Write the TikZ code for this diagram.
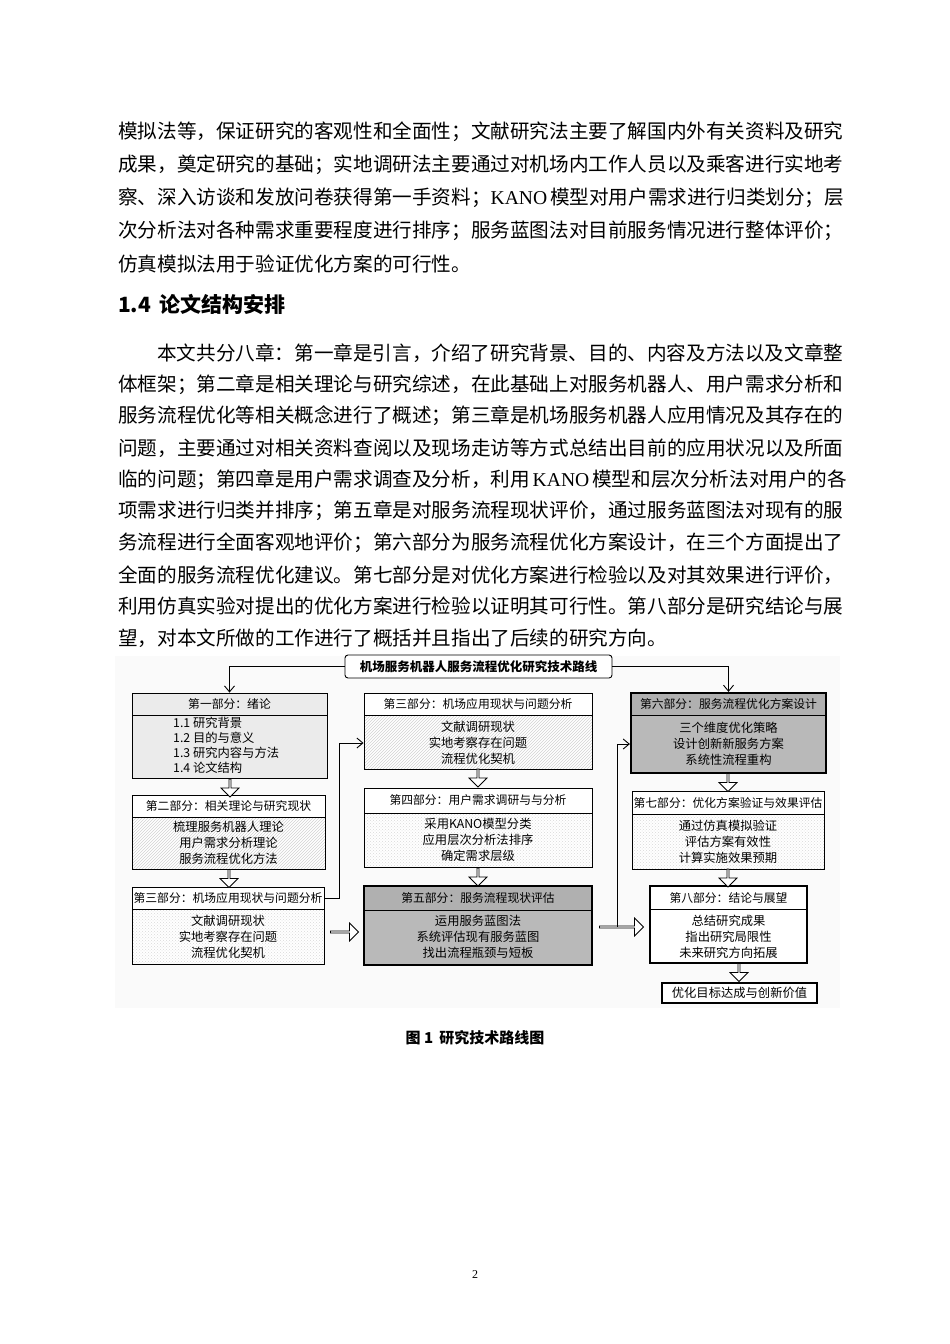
\documentclass[tikz,border=0pt]{standalone}
\usepackage{fontspec}
\setmainfont{Liberation Serif}
\newfontfamily\cjk{Noto Sans CJK SC}
\usetikzlibrary{arrows.meta,patterns,shapes.arrows}
\XeTeXlinebreaklocale "zh"
\XeTeXlinebreakskip=0pt plus 3pt minus 1pt
\newcommand\jl[1]{\hbox to 715pt{#1}}
\begin{document}
\begin{tikzpicture}[x=1pt,y=-1pt,
  txt/.style={anchor=west,inner sep=0pt,font=\cjk\fontsize{19.6}{22}\selectfont},
  hd/.style={font=\cjk\fontsize{11.8}{14}\selectfont,inner sep=0pt},
  bd/.style={font=\cjk\fontsize{12.3}{16}\selectfont,align=center,inner sep=0pt},
  outer/.style={draw,line width=0.9pt,inner sep=0pt},
  thickb/.style={draw,line width=2.2pt,inner sep=0pt},
  hline/.style={line width=0.9pt},
  darr/.style={draw,single arrow,line width=0.8pt,fill=white,minimum height=18pt,minimum width=18pt,single arrow head extend=3pt,shape border rotate=270,inner sep=0pt},
  rarr/.style={draw,single arrow,line width=0.8pt,fill=white,minimum width=18pt,single arrow head extend=3pt,inner sep=0pt},
  conn/.style={line width=0.9pt,-{Straight Barb[length=6pt,width=10pt]}}]
\useasboundingbox (0,0) rectangle (950,1344);
\fill[white] (0,0) rectangle (950,1344);
% top paragraph
\node[txt] (l1) at (118,132) {\jl{模拟法等，保证研究的客观性和全面性；文献研究法主要了解国内外有关资料及研究}};
\node[txt] (l2) at (118,165) {\jl{成果，奠定研究的基础；实地调研法主要通过对机场内工作人员以及乘客进行实地考}};
\node[txt] (l3) at (118,198) {\jl{察、深入访谈和发放问卷获得第一手资料；{\rmfamily KANO} 模型对用户需求进行归类划分；层}};
\node[txt] (l4) at (118,231) {\jl{次分析法对各种需求重要程度进行排序；服务蓝图法对目前服务情况进行整体评价；}};
\node[txt] (l5) at (118,264) {仿真模拟法用于验证优化方案的可行性。};
\node[anchor=west,inner sep=0pt,font=\cjk\bfseries\fontsize{21}{24}\selectfont] (h) at (118,304) {1.4\hspace{8pt}论文结构安排};
\node[txt] (p1) at (157,353) {\hbox to 676pt{本文共分八章：第一章是引言，介绍了研究背景、目的、内容及方法以及文章整}};
\node[txt] (p2) at (118,385) {\jl{体框架；第二章是相关理论与研究综述，在此基础上对服务机器人、用户需求分析和}};
\node[txt] (p3) at (118,416) {\jl{服务流程优化等相关概念进行了概述；第三章是机场服务机器人应用情况及其存在的}};
\node[txt] (p4) at (118,448) {\jl{问题，主要通过对相关资料查阅以及现场走访等方式总结出目前的应用状况以及所面}};
\node[txt] (p5) at (118,480) {\jl{临的问题；第四章是用户需求调查及分析，利用 {\rmfamily KANO} 模型和层次分析法对用户的各}};
\node[txt] (p6) at (118,511) {\jl{项需求进行归类并排序；第五章是对服务流程现状评价，通过服务蓝图法对现有的服}};
\node[txt] (p7) at (118,543) {\jl{务流程进行全面客观地评价；第六部分为服务流程优化方案设计，在三个方面提出了}};
\node[txt] (p8) at (118,575) {\jl{全面的服务流程优化建议。第七部分是对优化方案进行检验以及对其效果进行评价，}};
\node[txt] (p9) at (118,606) {\jl{利用仿真实验对提出的优化方案进行检验以证明其可行性。第八部分是研究结论与展}};
\node[txt] (p10) at (118,638) {望，对本文所做的工作进行了概括并且指出了后续的研究方向。};
% diagram background
\fill[gray!4] (115,656) rectangle (840,1008);
% title
\node[draw,rounded corners=3pt,line width=0.9pt,fill=white,minimum width=267pt,minimum height=23pt,font=\cjk\bfseries\fontsize{12.5}{14}\selectfont] (T) at (478.5,666.5) {机场服务机器人服务流程优化研究技术路线};
% Box 1
\fill[gray!16] (132,693) rectangle (327,778);
\draw[hline] (132,715) -- (327,715);
\node[outer,minimum width=195pt,minimum height=85pt] (B1) at (229.5,735.5) {};
\node[hd] (B1h) at (229.5,704) {第一部分：绪论};
\node[font=\cjk\fontsize{12.3}{15}\selectfont,align=left,anchor=north west,inner sep=0pt] (B1b) at (173,717) {1.1 研究背景\\1.2 目的与意义\\1.3 研究内容与方法\\1.4 论文结构};
% Box 2
\fill[white] (132,795) rectangle (325,869);
\fill[pattern=north east lines,pattern color=gray!35] (132,817) rectangle (325,869);
\draw[hline] (132,817) -- (325,817);
\node[outer,minimum width=193pt,minimum height=74pt] (B2) at (228.5,832) {};
\node[hd] (B2h) at (228.5,806) {第二部分：相关理论与研究现状};
\node[bd] (B2b) at (228.5,843) {梳理服务机器人理论\\用户需求分析理论\\服务流程优化方法};
% Box 3 left
\fill[white] (132,887) rectangle (324,964);
\fill[pattern=crosshatch dots,pattern color=gray!30] (132,909) rectangle (324,964);
\draw[hline] (132,909) -- (324,909);
\node[outer,minimum width=192pt,minimum height=77pt] (B3) at (228,925.5) {};
\node[hd] (B3h) at (228,898) {第三部分：机场应用现状与问题分析};
\node[bd] (B3b) at (228,937) {文献调研现状\\实地考察存在问题\\流程优化契机};
% Box 3 middle
\fill[white] (364,693) rectangle (592,769);
\fill[pattern=north east lines,pattern color=gray!35] (364,715) rectangle (592,769);
\draw[hline] (364,715) -- (592,715);
\node[outer,minimum width=228pt,minimum height=76pt] (M3) at (478,731) {};
\node[hd] (M3h) at (478,704) {第三部分：机场应用现状与问题分析};
\node[bd] (M3b) at (478,743) {文献调研现状\\实地考察存在问题\\流程优化契机};
% Box 4
\fill[white] (364,788) rectangle (592,867);
\fill[pattern=crosshatch dots,pattern color=gray!30] (364,813) rectangle (592,867);
\draw[hline] (364,813) -- (592,813);
\node[outer,minimum width=228pt,minimum height=79pt] (M4) at (478,827.5) {};
\node[hd] (M4h) at (478,800.5) {第四部分：用户需求调研与与分析};
\node[bd] (M4b) at (478,840) {采用KANO模型分类\\应用层次分析法排序\\确定需求层级};
% Box 5
\fill[gray!55] (364,886) rectangle (592,965);
\fill[gray!62] (364,886) rectangle (592,910);
\draw[hline] (364,910) -- (592,910);
\node[thickb,minimum width=228pt,minimum height=79pt] (M5) at (478,925.5) {};
\node[hd] (M5h) at (478,898) {第五部分：服务流程现状评估};
\node[bd] (M5b) at (478,937) {运用服务蓝图法\\系统评估现有服务蓝图\\找出流程瓶颈与短板};
% Box 6
\fill[gray!55] (631,693) rectangle (826,773);
\fill[gray!62] (631,693) rectangle (826,715);
\draw[hline] (631,715) -- (826,715);
\node[thickb,minimum width=195pt,minimum height=80pt] (R6) at (728.5,733) {};
\node[hd] (R6h) at (728.5,704) {第六部分：服务流程优化方案设计};
\node[bd] (R6b) at (728.5,744) {三个维度优化策略\\设计创新新服务方案\\系统性流程重构};
% Box 7
\fill[white] (632,791) rectangle (824,869);
\fill[pattern=crosshatch dots,pattern color=gray!30] (632,814) rectangle (824,869);
\draw[hline] (632,814) -- (824,814);
\node[outer,minimum width=192pt,minimum height=78pt] (R7) at (728,830) {};
\node[hd] (R7h) at (728,802.5) {第七部分：优化方案验证与效果评估};
\node[bd] (R7b) at (728,842) {通过仿真模拟验证\\评估方案有效性\\计算实施效果预期};
% Box 8
\fill[white] (650,886) rectangle (807,963);
\draw[hline] (650,909) -- (807,909);
\node[draw,line width=1.6pt,inner sep=0pt,minimum width=157pt,minimum height=77pt] (R8) at (728.5,924.5) {};
\node[hd] (R8h) at (728.5,897.5) {第八部分：结论与展望};
\node[bd] (R8b) at (728.5,937) {总结研究成果\\指出研究局限性\\未来研究方向拓展};
% final
\node[draw,line width=1.2pt,fill=white,minimum width=155pt,minimum height=20pt,inner sep=0pt,font=\cjk\fontsize{12.3}{14}\selectfont] (F) at (739.5,993) {优化目标达成与创新价值};
% hollow arrows
\node[darr] (a1) at (230,787.5) {};
\node[darr] (a2) at (229,878) {};
\node[darr] (a3) at (478,777.5) {};
\node[darr] (a4) at (478,876.5) {};
\node[darr] (a5) at (728,782) {};
\node[darr] (a6) at (728,877.5) {};
\node[darr] (a7) at (739,972) {};
\node[rarr,minimum height=28pt] (a8) at (344,932) {};
\node[rarr,minimum height=44pt] (a9) at (621,927) {};
% connectors
\coordinate (k1) at (339,898);
\coordinate (k2) at (617,927);
\draw[conn] (T.west) -| (B1.north);
\draw[conn] (T.east) -| (R6.north);
\draw[conn] (B3.east|-B3h) -- (k1) |- (M3.west|-M3b);
\draw[conn] (k2) |- (R6.west|-R6b);
% caption
\node[font=\cjk\bfseries\fontsize{15}{17}\selectfont] (cap) at (475,1038) {图 1\hspace{6pt}研究技术路线图};
\node[font=\fontsize{12}{14}\selectfont] (pg) at (475,1275) {2};
\end{tikzpicture}
\end{document}
